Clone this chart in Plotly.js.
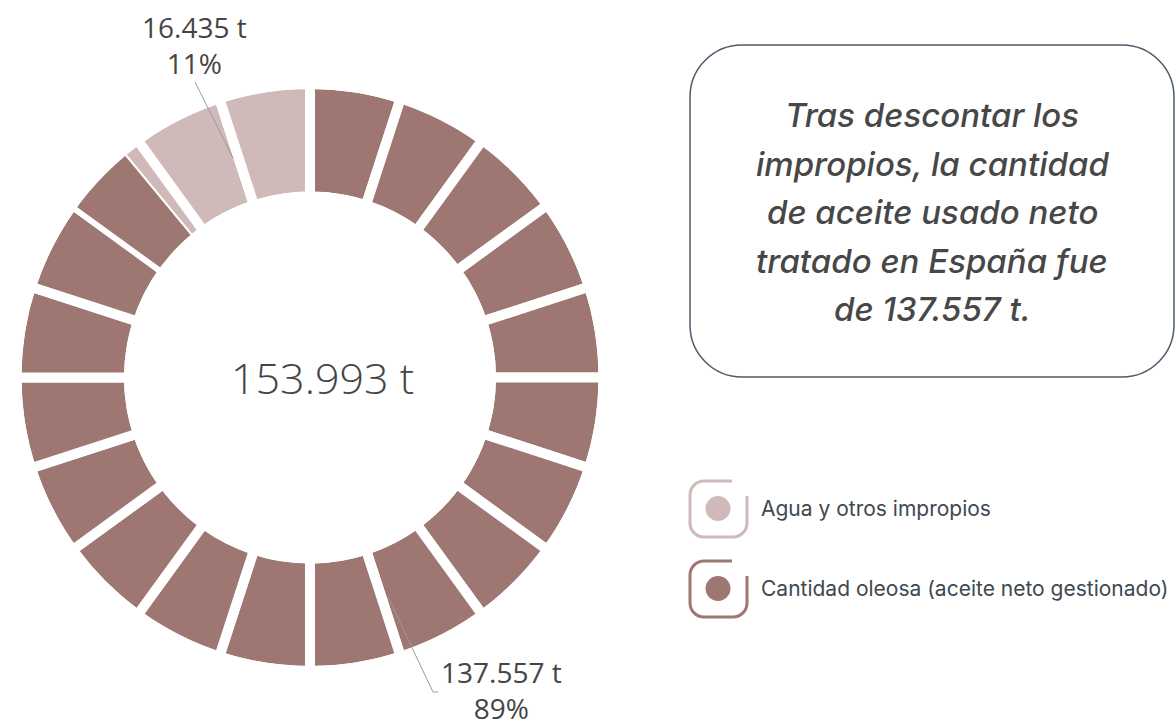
<!DOCTYPE html>
<html>
<head>
<meta charset="utf-8">
<script src="https://cdn.plot.ly/plotly-3.0.1.min.js"></script>
<style>html,body{margin:0;padding:0;background:#fff;}#chart{width:1176px;height:724px;}</style>
</head>
<body>
<div id="chart"></div>
<script>
// ---- data ----
const categories = ['Agua y otros impropios', 'Cantidad oleosa (aceite neto gestionado)'];
const tonnes = [16435, 137557];
const percents = [11, 89];
const totalTonnes = 153993;
const summaryLines = ['Tras descontar los', 'impropios, la cantidad', 'de aceite usado neto', 'tratado en España fue', 'de 137.557 t.'];
const segmentCount = 20;

// ---- style ----
const W = 1176, H = 724;
const catColors = ['#d0b9b9', '#9e7672'];
const textDark = '#454545';
const px = x => x / W;
const py = y => 1 - y / H;
const fmt = n => String(n).replace(/\B(?=(\d{3})+(?!\d))/g, '.') + ' t';

// Build the segmented ring slices from the percentages (category 0 fills counter-clockwise from 12 o'clock)
const segSize = 100 / segmentCount;
let slices = [];
let pos = 0;
percents.forEach((p, ci) => {
  let remaining = p;
  while (remaining > 1e-9) {
    const segEnd = (Math.floor(pos / segSize + 1e-9) + 1) * segSize;
    const take = Math.min(remaining, segEnd - pos);
    slices.push({ v: take, c: ci, start: pos, end: pos + take });
    pos += take; remaining -= take;
  }
});
const isSegEdge = v => Math.abs(v / segSize - Math.round(v / segSize)) < 1e-6;
slices = slices.slice().reverse(); // drawn clockwise from 12 o'clock, so reverse order
const lineW = slices.map(s => (isSegEdge(s.start) && isSegEdge(s.end)) ? 10 : 2);

const cx = 310, cy = 377.5, R = 293.5, holeR = 181;
const domain = { x: [px(cx - R), px(cx + R)], y: [py(cy + R), py(cy - R)] };

const ringTrace = {
  type: 'pie', values: slices.map(s => s.v), labels: slices.map((s, i) => 's' + i),
  marker: { colors: slices.map(s => catColors[s.c]), line: { color: '#ffffff', width: lineW } },
  sort: false, direction: 'clockwise', rotation: 0, hole: holeR / R,
  textinfo: 'none', hoverinfo: 'skip', domain: domain, showlegend: false
};
const outlineTrace = {
  type: 'pie', values: [1], labels: ['outline'],
  marker: { colors: ['rgba(0,0,0,0)'], line: { color: '#ffffff', width: 10 } },
  sort: false, hole: holeR / R, textinfo: 'none', hoverinfo: 'skip', domain: domain, showlegend: false
};

// ---- shapes ----
const shapes = [];
function roundedPath(l, t, r, b, rad) {
  const k = 0.5523 * rad;
  return `M${px(l + rad)},${py(t)} L${px(r - rad)},${py(t)} ` +
    `C${px(r - rad + k)},${py(t)} ${px(r)},${py(t + rad - k)} ${px(r)},${py(t + rad)} ` +
    `L${px(r)},${py(b - rad)} ` +
    `C${px(r)},${py(b - rad + k)} ${px(r - rad + k)},${py(b)} ${px(r - rad)},${py(b)} ` +
    `L${px(l + rad)},${py(b)} ` +
    `C${px(l + rad - k)},${py(b)} ${px(l)},${py(b - rad + k)} ${px(l)},${py(b - rad)} ` +
    `L${px(l)},${py(t + rad)} ` +
    `C${px(l)},${py(t + rad - k)} ${px(l + rad - k)},${py(t)} ${px(l + rad)},${py(t)} Z`;
}
shapes.push({ type: 'path', xref: 'paper', yref: 'paper', path: roundedPath(690, 45, 1174, 377, 52), line: { color: '#4e5b6a', width: 1.5 }, fillcolor: 'rgba(0,0,0,0)' });

// leader lines
shapes.push({ type: 'path', xref: 'paper', yref: 'paper', path: `M${px(195)},${py(82)} L${px(233)},${py(158)}`, line: { color: '#9a9a9a', width: 1 } });
shapes.push({ type: 'path', xref: 'paper', yref: 'paper', path: `M${px(388)},${py(597)} L${px(433)},${py(692)} L${px(438)},${py(692)}`, line: { color: '#9a9a9a', width: 1 } });

// legend icons
const legendTops = [481, 561];
const annotations = [];
categories.forEach((cat, i) => {
  const t = legendTops[i], l = 690, r = 747, b = t + 56, rad = 14, k = 0.5523 * rad;
  const path = `M${px(732)},${py(t)} L${px(l + rad)},${py(t)} C${px(l + rad - k)},${py(t)} ${px(l)},${py(t + rad - k)} ${px(l)},${py(t + rad)} L${px(l)},${py(b - rad)} C${px(l)},${py(b - rad + k)} ${px(l + rad - k)},${py(b)} ${px(l + rad)},${py(b)} L${px(r - rad)},${py(b)} C${px(r - rad + k)},${py(b)} ${px(r)},${py(b - rad + k)} ${px(r)},${py(b - rad)} L${px(r)},${py(t + 15)}`;
  shapes.push({ type: 'path', xref: 'paper', yref: 'paper', path: path, line: { color: catColors[i], width: 3 } });
  const ccx = 718, ccy = t + 27.5, cr = 12.5;
  shapes.push({ type: 'circle', xref: 'paper', yref: 'paper', x0: px(ccx - cr), x1: px(ccx + cr), y0: py(ccy + cr), y1: py(ccy - cr), fillcolor: catColors[i], line: { width: 0 } });
  annotations.push({ xref: 'paper', yref: 'paper', x: px(759), y: py(ccy), xanchor: 'left', yanchor: 'middle', showarrow: false, text: cat, font: { family: 'Inter, sans-serif', size: 21, color: '#3e4850' } });
});

// value labels
const labelFont = { family: 'Open Sans, sans-serif', size: 28, color: textDark, weight: 400 };
const labelPos = [{ x: 194, y: 45 }, { x: 501, y: 690 }];
categories.forEach((cat, i) => {
  annotations.push({ xref: 'paper', yref: 'paper', x: px(labelPos[i].x), y: py(labelPos[i].y), xanchor: 'center', yanchor: 'middle', showarrow: false, borderpad: 0, text: fmt(tonnes[i]) + '<br>' + percents[i] + '%', font: labelFont });
});

// center total
annotations.push({ xref: 'paper', yref: 'paper', x: px(322), y: py(377), xanchor: 'center', yanchor: 'middle', showarrow: false, text: fmt(totalTonnes), font: { family: 'Open Sans, sans-serif', size: 43, color: textDark, weight: 300 } });

// summary box text
summaryLines.forEach((line, i) => {
  annotations.push({ xref: 'paper', yref: 'paper', x: px(932), y: py(115 + i * 48.5), xanchor: 'center', yanchor: 'middle', showarrow: false, text: '<i>' + line + '</i>', font: { family: 'Inter, sans-serif', size: 33, color: '#474747', weight: 500 } });
});

const layout = {
  width: W, height: H, margin: { l: 0, r: 0, t: 0, b: 0 },
  paper_bgcolor: '#ffffff', plot_bgcolor: '#ffffff', showlegend: false,
  shapes: shapes, annotations: annotations
};
Plotly.newPlot('chart', [ringTrace, outlineTrace], layout, { displayModeBar: false, staticPlot: true });
</script>
</body>
</html>
